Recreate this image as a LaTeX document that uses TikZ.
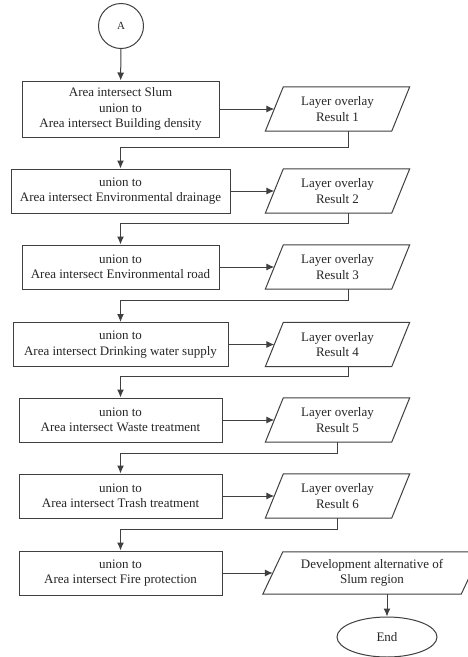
\documentclass[tikz,border=0pt]{standalone}
\usepackage{fontspec}
\setmainfont{Liberation Serif}
\usetikzlibrary{arrows.meta,shapes.geometric}
\begin{document}
\begin{tikzpicture}[x=1pt,y=-1pt,
  every node/.style={font=\fontsize{13}{15.5}\selectfont, text=black!85},
  outl/.style={draw=black!75, line width=1pt},
  proc/.style={outl, align=center, inner sep=0pt, minimum height=44pt},
  iobox/.style={align=center, inner sep=0pt, minimum width=126pt, minimum height=44pt},
  link/.style={draw=black!75, line width=1pt, -{Latex[length=8pt,width=7pt]}},
]
\useasboundingbox (0,0) rectangle (468,657);
\fill[white] (0,0) rectangle (468,657);

\node[outl, circle, minimum size=45pt, inner sep=0pt, font=\fontsize{11}{13}\selectfont] (a) at (121,26) {A};

\node[proc, minimum width=197pt, minimum height=56pt] (b1) at (120.5,109) {Area intersect Slum\\union to\\Area intersect Building density};
\node[proc, minimum width=219pt] (b2) at (120.5,191) {union to\\Area intersect Environmental drainage};
\node[proc, minimum width=197pt] (b3) at (120.5,267) {union to\\Area intersect Environmental road};
\node[proc, minimum width=215pt] (b4) at (120.5,344.5) {union to\\Area intersect Drinking water supply};
\node[proc, minimum width=203pt] (b5) at (120.5,420) {union to\\Area intersect Waste treatment};
\node[proc, minimum width=203pt] (b6) at (120.5,496) {union to\\Area intersect Trash treatment};
\node[proc, minimum width=203pt] (b7) at (120.5,573) {union to\\Area intersect Fire protection};

\node[iobox] (p1) at (337.5,109) {Layer overlay\\Result 1};
\node[iobox] (p2) at (337.5,191) {Layer overlay\\Result 2};
\node[iobox] (p3) at (337.5,267) {Layer overlay\\Result 3};
\node[iobox] (p4) at (337.5,344.5) {Layer overlay\\Result 4};
\node[iobox] (p5) at (337.5,420) {Layer overlay\\Result 5};
\node[iobox] (p6) at (337.5,496) {Layer overlay\\Result 6};
\node[iobox, minimum width=198pt, minimum height=42pt] (p7) at (372,573) {Development alternative of\\Slum region};

\foreach \n in {p1,p2,p3,p4,p5,p6}
  \draw[outl] ([xshift=9pt]\n.north west) -- ([xshift=9pt]\n.north east) -- ([xshift=-9pt]\n.south east) -- ([xshift=-9pt]\n.south west) -- cycle;
\draw[outl] ([xshift=10pt]p7.north west) -- ([xshift=10pt]p7.north east) -- ([xshift=-10pt]p7.south east) -- ([xshift=-10pt]p7.south west) -- cycle;

\node[outl, ellipse, minimum width=100pt, minimum height=40pt, inner sep=0pt] (e) at (387,637) {End};

\draw[link] (a) -- (b1);
\foreach \i in {1,...,7} \draw[link] (b\i.east) -- (p\i.west);
\draw[link] ([xshift=11pt]p1.south) -- ++(0,16) -| (b2.north);
\draw[link] ([xshift=11pt]p2.south) -- ++(0,10) -| (b3.north);
\draw[link] ([xshift=11pt]p3.south) -- ++(0,11) -| (b4.north);
\draw[link] ([xshift=11pt]p4.south) -- ++(0,10) -| (b5.north);
\draw[link] (p5.south) -- ++(0,11) -| (b6.north);
\draw[link] (p6.south) -- ++(0,11) -| (b7.north);
\draw[link] ([xshift=15pt]p7.south) -- (e.north);
\end{tikzpicture}
\end{document}
